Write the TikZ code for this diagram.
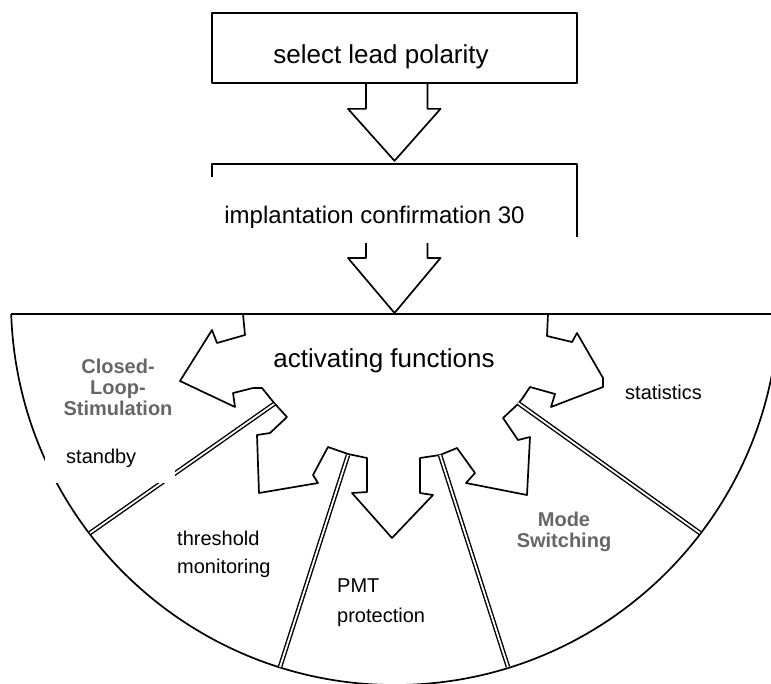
\documentclass[tikz,border=0pt]{standalone}
\usepackage{fontspec}
\setmainfont{Liberation Sans}

\tikzset{
  outline/.style = {line width=1.7pt, line join=round},
  box/.style = {draw, outline, inner sep=0pt},
  divider/.style = {double, double distance=1.8pt, line width=1.4pt},
  txt/.style = {inner sep=0pt, anchor=base west, font=\fontsize{20}{28}\selectfont},
  bigtxt/.style = {inner sep=0pt, anchor=base, font=\fontsize{26}{30}\selectfont},
  oldtxt/.style = {inner sep=0pt, anchor=base, align=center, text=black!60,
    font=\bfseries\fontsize{20}{21}\selectfont}
}

\begin{document}
\begin{tikzpicture}[x=1pt, y=1pt, yscale=-1]
  \clip (0,0) rectangle (771,683);

  % upper boxes
  \node[box, minimum width=365pt, minimum height=70pt] (polarity) at (394.5,48) {};
  \coordinate (confirm) at (394.5,164);
  \draw[outline] (212,177) -- (212,164) -- (577,164) -- (577,237);

  % block arrows between the boxes
  \draw[outline] (polarity.south) ++(-28.5,0) -- ++(0,25) -- ++(-18,0)
    -- ++(46.5,52) -- ++(46,-52) -- ++(-13,0) -- ++(0,-25);
  \draw[outline] (confirm) ++(-28.5,79) -- ++(0,15) -- ++(-18,0)
    -- ++(46.5,55) -- ++(46,-55) -- ++(-13,0) -- ++(0,-15);

  % half disc
  \coordinate (rim) at (11.2,314);
  \draw[outline] (rim) -- (778.8,314);
  \draw[outline] (rim) arc[start angle=178.06, end angle=1.94, radius=384];

  % hub with its five arrows
  \draw[outline] (243,314) -- (245,335) -- (217,343) -- (212,330) -- (180,381)
    -- (235,407) -- (233,393) -- (253,388) -- (262,388) -- (275,404)
    -- (287,417) -- (270,433) -- (257,435) -- (259,493) -- (318,483)
    -- (313,475) -- (328,447) -- (348,454) -- (367,458) -- (367,492)
    -- (352,493) -- (392,538) -- (433,495) -- (420,493) -- (420,458)
    -- (440,455) -- (457,448) -- (475,473) -- (466,483) -- (527,495)
    -- (530,437) -- (518,440) -- (503,418) -- (517,405) -- (522,399)
    -- (530,387) -- (555,394) -- (551,407) -- (603,387) -- (603,378)
    -- (577,333) -- (572,342) -- (547,336) -- (548,314);

  % sector dividers
  \draw[divider] (274,404) -- (90,533);
  \draw[divider] (348,455) -- (280,667);
  \draw[divider] (440,455) -- (508,667);
  \draw[divider] (518,403) -- (700,533);

  % pasted label patch
  \fill[white] (45,433) rectangle (175,483);

  % labels
  \node[bigtxt] (polaritytxt) at (381,63) {select lead polarity};
  \node[bigtxt, font=\fontsize{24}{28}\selectfont] (confirmtxt) at (374.5,223)
    {implantation confirmation 30};
  \node[bigtxt] (hubtxt) at (384,367) {activating functions};
  \node[oldtxt] (closedloop) at (118,415) {Closed-\\Loop-\\Stimulation};
  \node[oldtxt] (modeswitch) at (564,547) {Mode\\Switching};
  \node[txt] (statistics) at (625,399) {statistics};
  \node[txt] (standby) at (66,463) {standby};
  \node[txt, align=left] (threshold) at (177,573) {threshold\\monitoring};
  \node[txt, align=left, font=\fontsize{20}{30}\selectfont] (pmt) at (337,622)
    {PMT\\protection};
\end{tikzpicture}
\end{document}
